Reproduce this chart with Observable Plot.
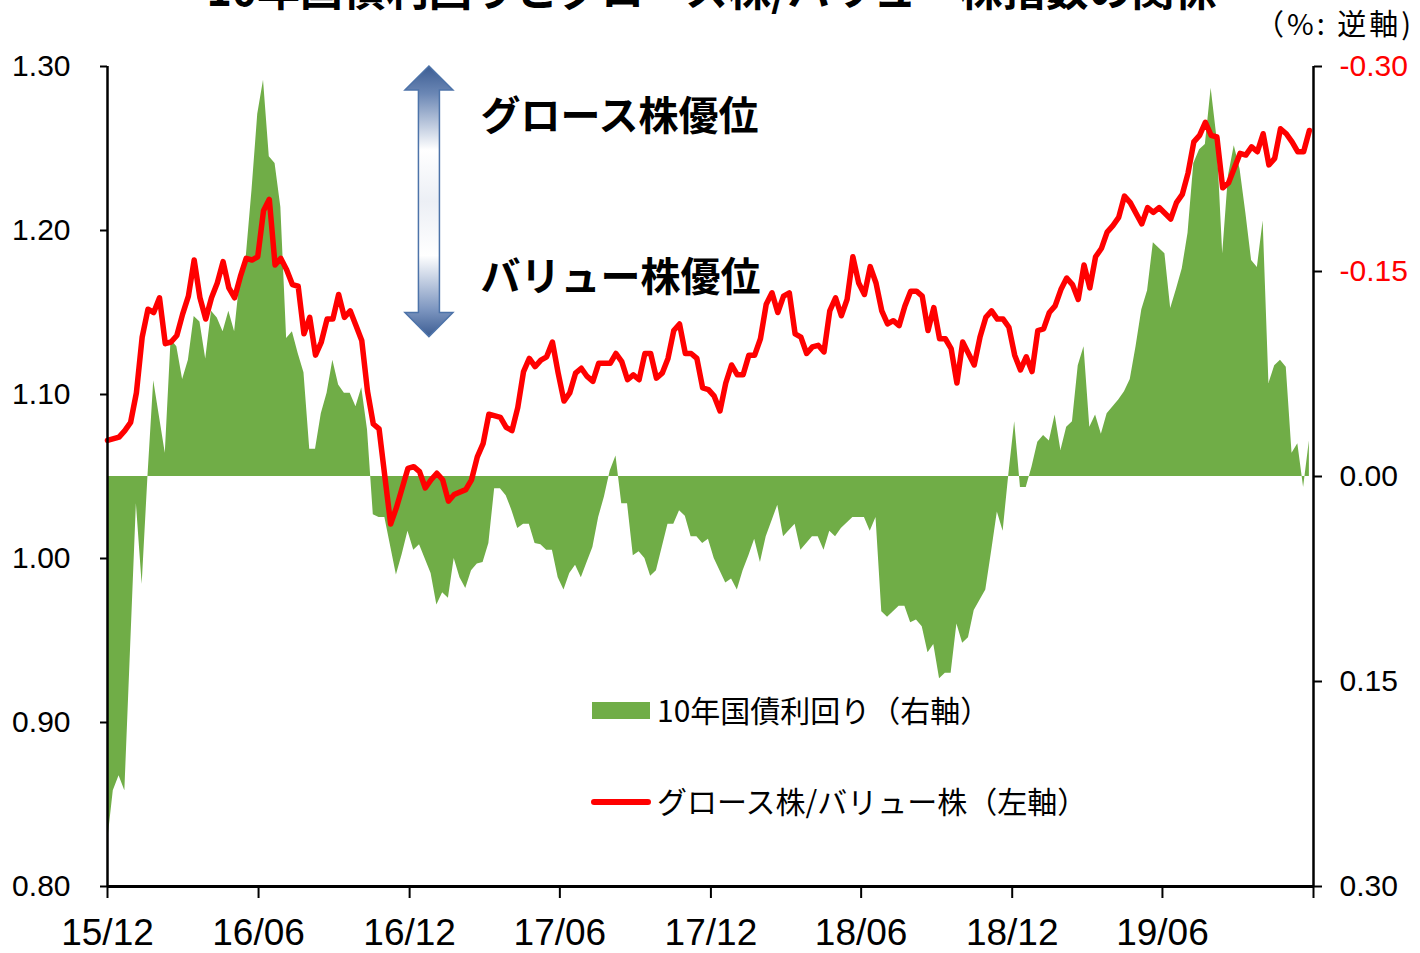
<!DOCTYPE html>
<html>
<head>
<meta charset="utf-8">
<script src="https://cdn.jsdelivr.net/npm/d3@7"></script>
<script src="https://cdn.jsdelivr.net/npm/@observablehq/plot@0.6"></script>
<style>
  html, body { margin: 0; padding: 0; background: #fff; }
  #chart svg { display: block; }
</style>
</head>
<body>
<div id="chart"></div>
<script>
// ---------------- data ----------------
const seriesStart = "2015-12-01";           // week 0
const xDomain = ["2015-12-01", "2019-12-01"];
const xTickDates = ["2015-12-01","2016-06-01","2016-12-01","2017-06-01","2017-12-01","2018-06-01","2018-12-01","2019-06-01","2019-12-01"];
const xTickLabels = ["15/12","16/06","16/12","17/06","17/12","18/06","18/12","19/06",""];
const leftTicks = [0.80, 0.90, 1.00, 1.10, 1.20, 1.30];
const rightTicks = [-0.30, -0.15, 0.00, 0.15, 0.30];   // reversed axis (%)

// Growth / Value ratio (left axis), weekly observations
const ratioWeeks = [0,2,3,4,5,6,7,8,9,10,11,12,13,14,15,16,17,18,19,20,21,22,23,24,25,26,27,28,29,30,31,32,33,34,35,36,37,38,39,40,41,42,43,44,45,46,47,49,50,52,53,54,55,56,57,58,59,60,62,63,64,65,66,68,69,70,71,72,73,74,75,76,77,78,79,80,81,82,83,84,85,87,88,89,90,91,92,93,94,95,96,97,98,99,100,101,102,103,104,105,106,107,108,109,110,111,112,113,114,115,116,117,118,119,120,121,122,123,124,125,126,127,128,129,130,131,132,133,134,135,136,137,138,139,140,141,142,143,144,145,146,147,148,149,150,151,152,153,154,155,156,157,158,159,160,161,162,163,164,165,166,167,168,169,170,171,172,173,174,175,176,177,179,180,181,182,184,185,186,187,188,189,190,191,192,193,194,195,196,197,198,199,200,201,202,203,204,205,206,207,208];
const ratioValues = [1.072,1.074,1.078,1.083,1.101,1.135,1.152,1.150,1.159,1.131,1.132,1.136,1.149,1.160,1.182,1.159,1.146,1.159,1.168,1.181,1.165,1.159,1.172,1.183,1.182,1.184,1.212,1.219,1.179,1.183,1.176,1.167,1.166,1.137,1.147,1.124,1.132,1.146,1.146,1.161,1.147,1.151,1.142,1.133,1.102,1.082,1.079,1.021,1.031,1.055,1.056,1.053,1.043,1.048,1.052,1.048,1.035,1.039,1.042,1.048,1.062,1.070,1.088,1.086,1.080,1.078,1.092,1.114,1.122,1.117,1.121,1.123,1.132,1.113,1.096,1.101,1.113,1.116,1.111,1.108,1.119,1.119,1.125,1.120,1.109,1.112,1.109,1.125,1.125,1.110,1.113,1.122,1.139,1.143,1.125,1.125,1.122,1.104,1.103,1.099,1.090,1.107,1.118,1.112,1.112,1.124,1.124,1.134,1.155,1.162,1.150,1.160,1.162,1.137,1.135,1.125,1.129,1.130,1.126,1.151,1.159,1.148,1.158,1.184,1.168,1.161,1.178,1.168,1.151,1.143,1.145,1.142,1.154,1.163,1.163,1.160,1.139,1.153,1.134,1.134,1.128,1.107,1.132,1.125,1.118,1.135,1.147,1.151,1.146,1.146,1.141,1.124,1.115,1.123,1.114,1.139,1.140,1.150,1.154,1.164,1.171,1.167,1.158,1.179,1.165,1.184,1.189,1.199,1.203,1.208,1.221,1.217,1.204,1.214,1.211,1.214,1.207,1.217,1.222,1.235,1.254,1.258,1.266,1.258,1.257,1.226,1.229,1.238,1.247,1.246,1.251,1.248,1.259,1.240,1.244,1.262,1.259,1.254,1.248,1.248,1.261];

// 10-year JGB yield (right axis, %), weekly observations
const yieldWeeks = [0,1,2,3,5,6,7,8,10,11,12,13,14,15,16,17,18,19,20,21,22,23,24,25,26,27,28,29,30,31,32,33,34,35,36,37,38,39,40,41,42,43,44,45,46,47,48,50,51,52,53,54,56,57,58,59,60,61,62,63,64,65,66,67,68,69,70,71,72,73,74,75,76,77,78,79,80,81,82,83,84,85,86,87,88,89,90,91,92,93,94,95,97,98,99,100,101,102,103,104,105,107,108,109,110,111,112,113,114,116,117,119,120,122,123,124,125,126,127,129,131,132,133,134,135,136,137,138,139,140,141,142,143,144,145,146,147,148,149,150,152,153,154,155,156,157,158,159,160,161,162,163,164,165,166,167,168,169,170,171,172,173,175,176,177,178,179,180,181,183,184,185,186,187,188,189,190,191,192,193,194,195,196,197,198,199,200,201,202,203,204,205,206,207,208];
const yieldValues = [0.268,0.230,0.219,0.230,0.020,0.079,0.000,-0.070,-0.017,-0.100,-0.095,-0.071,-0.085,-0.117,-0.113,-0.086,-0.121,-0.116,-0.106,-0.121,-0.106,-0.146,-0.160,-0.209,-0.265,-0.290,-0.234,-0.229,-0.197,-0.101,-0.106,-0.090,-0.076,-0.020,-0.020,-0.046,-0.061,-0.085,-0.067,-0.061,-0.061,-0.051,-0.065,-0.034,0.028,0.030,0.030,0.072,0.057,0.040,0.054,0.050,0.071,0.094,0.085,0.089,0.060,0.074,0.082,0.069,0.064,0.063,0.049,0.009,0.009,0.014,0.025,0.038,0.035,0.035,0.049,0.050,0.054,0.054,0.074,0.083,0.071,0.065,0.074,0.063,0.052,0.030,0.015,-0.004,-0.015,0.020,0.020,0.058,0.055,0.060,0.073,0.069,0.035,0.035,0.025,0.029,0.044,0.044,0.049,0.046,0.060,0.078,0.075,0.083,0.069,0.058,0.046,0.063,0.044,0.021,0.044,0.035,0.054,0.044,0.044,0.054,0.040,0.044,0.038,0.030,0.030,0.040,0.030,0.099,0.103,0.099,0.095,0.095,0.107,0.105,0.110,0.129,0.123,0.148,0.144,0.144,0.108,0.122,0.118,0.098,0.083,0.055,0.026,0.040,-0.002,-0.040,0.008,0.008,-0.007,-0.025,-0.030,-0.026,-0.045,-0.019,-0.036,-0.040,-0.081,-0.095,-0.036,-0.045,-0.031,-0.046,-0.056,-0.062,-0.071,-0.095,-0.122,-0.136,-0.171,-0.163,-0.123,-0.137,-0.152,-0.178,-0.229,-0.239,-0.243,-0.284,-0.248,-0.163,-0.220,-0.242,-0.225,-0.193,-0.158,-0.153,-0.187,-0.068,-0.081,-0.085,-0.080,-0.017,-0.024,0.008,-0.026];

const titleText = "10年国債利回りとグロース株/バリュー株指数の関係";
const unitText = "（%: 逆軸)";
const legendYield = "10年国債利回り（右軸）";
const legendRatio = "グロース株/バリュー株（左軸）";
const growthLabel = "グロース株優位";
const valueLabel = "バリュー株優位";

// ---------------- helpers ----------------
const DAY = 864e5;
const t0 = new Date(seriesStart).getTime();
const weekDate = w => new Date(t0 + w * 7 * DAY);
// right axis (reversed, -0.30 .. 0.30) mapped onto the left axis (1.30 .. 0.80)
const toLeft = v => 1.05 - v * (0.25 / 0.30);
const fromLeft = y => (1.05 - y) / (0.25 / 0.30);

const ratio = ratioWeeks.map((w, i) => ({date: weekDate(w), v: ratioValues[i]}));
const yields = yieldWeeks.map((w, i) => ({date: weekDate(w), v: yieldValues[i]}));

const CJK = "'Noto Sans CJK JP', 'Noto Sans', sans-serif";
const LAT = "'Liberation Sans', Arial, sans-serif";
const fmt = d => {
  const s = Math.abs(d) < 1e-9 ? 0 : d;
  return s.toFixed(2);
};

const negRight = rightTicks.filter(v => v < 0).map(toLeft);
const posRight = rightTicks.filter(v => v >= 0).map(toLeft);

const chart = Plot.plot({
  width: 1420,
  height: 953,
  marginLeft: 107,
  marginRight: 107,
  marginTop: 66,
  marginBottom: 67,
  style: {fontFamily: LAT, background: "#fff", color: "#000", overflow: "visible"},
  x: {type: "utc", domain: xDomain.map(s => new Date(s)), label: null},
  y: {domain: [0.8, 1.3], label: null},
  marks: [
    Plot.areaY(yields, {x: "date", y1: () => 1.05, y2: d => toLeft(d.v), fill: "#70AD47", curve: "linear"}),
    Plot.lineY(ratio, {x: "date", y: "v", stroke: "#FF0000", strokeWidth: 5.5, strokeLinejoin: "round", strokeLinecap: "round"}),
    Plot.axisY({anchor: "left", ticks: leftTicks, tickFormat: fmt, tickSize: 7, tickPadding: 30, fontSize: 30, strokeWidth: 2, label: null}),
    Plot.axisY({anchor: "right", ticks: negRight, tickFormat: d => fmt(fromLeft(d)), tickSize: 8, tickPadding: 18, fontSize: 30, strokeWidth: 2, fill: "#FF0000", label: null}),
    Plot.axisY({anchor: "right", ticks: posRight, tickFormat: d => fmt(fromLeft(d)), tickSize: 8, tickPadding: 18, fontSize: 30, strokeWidth: 2, label: null}),
    Plot.axisX({anchor: "bottom", ticks: xTickDates.map(s => new Date(s)), tickFormat: d => xTickLabels[xTickDates.indexOf(d.toISOString().slice(0, 10))], tickSize: 12, tickPadding: 20, fontSize: 37, strokeWidth: 2, label: null}),
    Plot.ruleX([new Date(xDomain[0])], {stroke: "#000", strokeWidth: 2.5}),
    Plot.ruleX([new Date(xDomain[1])], {stroke: "#000", strokeWidth: 2.5}),
    Plot.ruleY([0.8], {stroke: "#000", strokeWidth: 3}),
    Plot.text([growthLabel], {x: () => new Date("2017-02-25"), y: () => 1.269, text: d => d, textAnchor: "start", lineAnchor: "middle", fontSize: 40, fontWeight: "bold", fontFamily: CJK, fill: "#000"}),
    Plot.text([valueLabel], {x: () => new Date("2017-02-25"), y: () => 1.171, text: d => d, textAnchor: "start", lineAnchor: "middle", fontSize: 40, fontWeight: "bold", fontFamily: CJK, fill: "#000"})
  ]
});

document.getElementById("chart").appendChild(chart);

// ---------------- annotations: arrow, title, unit, legend ----------------
const svg = d3.select(chart);
const sx = chart.scale("x"), sy = chart.scale("y");

// gradient double arrow (growth vs value)
const defs = svg.append("defs");
const grad = defs.append("linearGradient").attr("id", "arrowGrad").attr("x1", 0).attr("y1", 0).attr("x2", 0).attr("y2", 1);
[[0, "#3c5d93"], [0.1, "#6a86b4"], [0.31, "#ffffff"], [0.5, "#eceff5"], [0.7, "#ffffff"], [0.9, "#7d96c0"], [1, "#3c5d93"]]
  .forEach(([o, c]) => grad.append("stop").attr("offset", o).attr("stop-color", c));
const ax = sx.apply(new Date("2016-12-25"));
const aTop = sy.apply(1.30), aBot = sy.apply(1.135);
const head = 24, headH = 24, shaft = 10.5;
const arrowPath = [
  [ax, aTop], [ax + head, aTop + headH], [ax + shaft, aTop + headH],
  [ax + shaft, aBot - headH], [ax + head, aBot - headH], [ax, aBot],
  [ax - head, aBot - headH], [ax - shaft, aBot - headH], [ax - shaft, aTop + headH],
  [ax - head, aTop + headH]
];
svg.append("path")
  .attr("d", "M" + arrowPath.map(p => p.join(",")).join("L") + "Z")
  .attr("fill", "url(#arrowGrad)")
  .attr("stroke", "#4d73a9")
  .attr("stroke-width", 1.5);

// title (its top is cut off by the page edge, as in the reference)
svg.append("text")
  .attr("x", 712).attr("y", 6)
  .attr("text-anchor", "middle")
  .attr("font-family", CJK).attr("font-size", 43).attr("font-weight", "bold")
  .text(titleText);

// unit label
svg.append("text")
  .attr("x", 1414).attr("y", 25).attr("dy", "0.36em")
  .attr("text-anchor", "end")
  .attr("letter-spacing", 3)
  .attr("font-family", CJK).attr("font-size", 29)
  .text(unitText);

// legend
const lg = svg.append("g").attr("font-family", CJK).attr("font-size", 30).attr("text-anchor", "start");
lg.append("rect").attr("x", 592).attr("y", 702).attr("width", 58).attr("height", 17).attr("fill", "#70AD47");
lg.append("text").attr("x", 657).attr("y", 711).attr("dy", "0.36em").attr("text-anchor", "start").text(legendYield);
lg.append("line").attr("x1", 594).attr("x2", 648).attr("y1", 802).attr("y2", 802)
  .attr("stroke", "#FF0000").attr("stroke-width", 6).attr("stroke-linecap", "round");
lg.append("text").attr("x", 657).attr("y", 802).attr("dy", "0.36em").attr("text-anchor", "start").text(legendRatio);
</script>
</body>
</html>
